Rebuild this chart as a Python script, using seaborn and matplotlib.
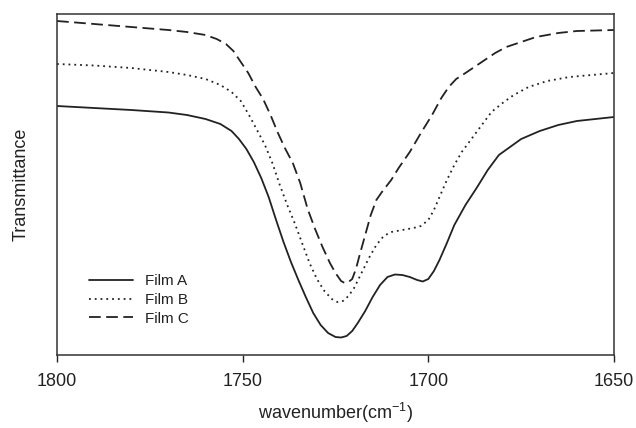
import matplotlib
matplotlib.use("Agg")
import matplotlib.pyplot as plt
import seaborn as sns
import pandas as pd

# FTIR carbonyl region of three films (arbitrary transmittance units)
wn_a = [1800, 1790, 1780, 1770, 1765, 1760, 1756, 1753, 1751, 1749, 1747, 1745, 1743,
        1741, 1739, 1737, 1735, 1733, 1731, 1729, 1727, 1725, 1723.5, 1722, 1720.5,
        1719, 1717, 1715, 1713, 1711, 1709, 1707, 1705, 1703, 1701.5, 1700, 1698.5,
        1697, 1695, 1693, 1690, 1687, 1684, 1681, 1678, 1675, 1670, 1665, 1660, 1655, 1650]
film_a = [249, 247, 245, 242.5, 240, 236, 231, 224, 216, 206, 193, 177, 158,
          135, 113, 93, 75, 58, 42, 30, 22, 18, 17.5, 19, 24,
          32, 44, 58, 70, 78, 80.5, 80, 78, 75, 73.5, 76, 84,
          95, 112, 130, 150, 167, 185, 200, 208, 216, 224, 230, 234, 236, 238]

wn_b = [1800, 1790, 1780, 1770, 1765, 1760, 1756, 1753, 1750.5, 1748, 1746, 1744, 1742,
        1740, 1738, 1736, 1734, 1732, 1730, 1728, 1726, 1724.5, 1723, 1721.5, 1720,
        1718, 1716, 1714, 1712, 1710, 1707, 1704, 1702, 1700, 1698.5, 1697, 1695,
        1693, 1691, 1689, 1686, 1683, 1680, 1677, 1673, 1668, 1662, 1656, 1650]
film_b = [291, 289.5, 287, 283, 280, 276, 270, 263, 254, 238, 224, 210, 192,
          170, 150, 132, 112, 92, 76, 64, 56, 53, 54, 59, 67,
          82, 97, 110, 119, 123, 125, 127, 129, 135, 145, 158, 175,
          190, 203, 213, 228, 243, 252, 260, 268, 274, 278, 280, 282]

wn_c = [1800, 1790, 1780, 1770, 1765, 1760, 1757, 1754.5, 1752.5, 1750.5, 1748.5, 1746.5,
        1744.5, 1742.5, 1740.5, 1738.5, 1736.5, 1734.5, 1732.5, 1730.5, 1728.5, 1726.5,
        1725, 1723.5, 1722.5, 1721.5, 1720.5, 1719.5, 1718.5, 1717, 1715.5, 1714, 1712.5,
        1710, 1708, 1705, 1702, 1699, 1696.5, 1694.5, 1692.5, 1690, 1686, 1682, 1679,
        1675, 1671, 1665, 1660, 1650]
film_c = [334, 331, 328, 325, 323, 320, 316, 311, 304, 293, 282, 268,
          256, 240, 222, 206, 192, 172, 146, 126, 108, 92,
          82, 74, 72, 73, 76, 86, 100, 120, 140, 155, 163,
          175, 187, 203, 222, 240, 257, 268, 276, 282, 292, 302, 308,
          313, 318, 322, 324, 325]

labels = ["Film A", "Film B", "Film C"]

sns.set_theme(style="white")
plt.rcParams["font.family"] = ["Liberation Sans", "DejaVu Sans"]
plt.rcParams["mathtext.default"] = "regular"

fig = plt.figure(figsize=(6.36, 4.28), dpi=100)
ax = fig.add_axes([57 / 636, 1 - 355 / 428, 557 / 636, 341 / 428])

ink = "#222222"
styles = [dict(linestyle="-"),
          dict(linestyle=(0, (1, 2.2))),
          dict(linestyle=(0, (6.5, 3)))]

for wn, vals, lab, st in zip([wn_a, wn_b, wn_c], [film_a, film_b, film_c], labels, styles):
    df = pd.DataFrame({"wavenumber": wn, "T": vals})
    sns.lineplot(data=df, x="wavenumber", y="T", ax=ax, color=ink, lw=1.3,
                 label=lab, sort=False, **st)

ax.set_xlim(1800, 1650)
ax.set_ylim(0, 341)
ax.set_xticks([1800, 1750, 1700, 1650])
ax.set_yticks([])
ax.tick_params(axis="x", direction="out", length=5, width=1, colors=ink,
               labelsize=13, pad=8, bottom=True, top=False)
for s in ax.spines.values():
    s.set_visible(True)
    s.set_color("#333333")
    s.set_linewidth(1.1)

ax.set_xlabel("wavenumber(cm$^{-1}$)", fontsize=13, color=ink, labelpad=8)
ax.set_ylabel("Transmittance", fontsize=13, color=ink, labelpad=20)

leg = ax.legend(loc="lower left", bbox_to_anchor=(0.032, 0.046), frameon=False,
                fontsize=11, handlelength=2.9, handletextpad=0.8, labelspacing=0.3)
for t in leg.get_texts():
    t.set_color(ink)

fig.savefig("out.png", dpi=100)
